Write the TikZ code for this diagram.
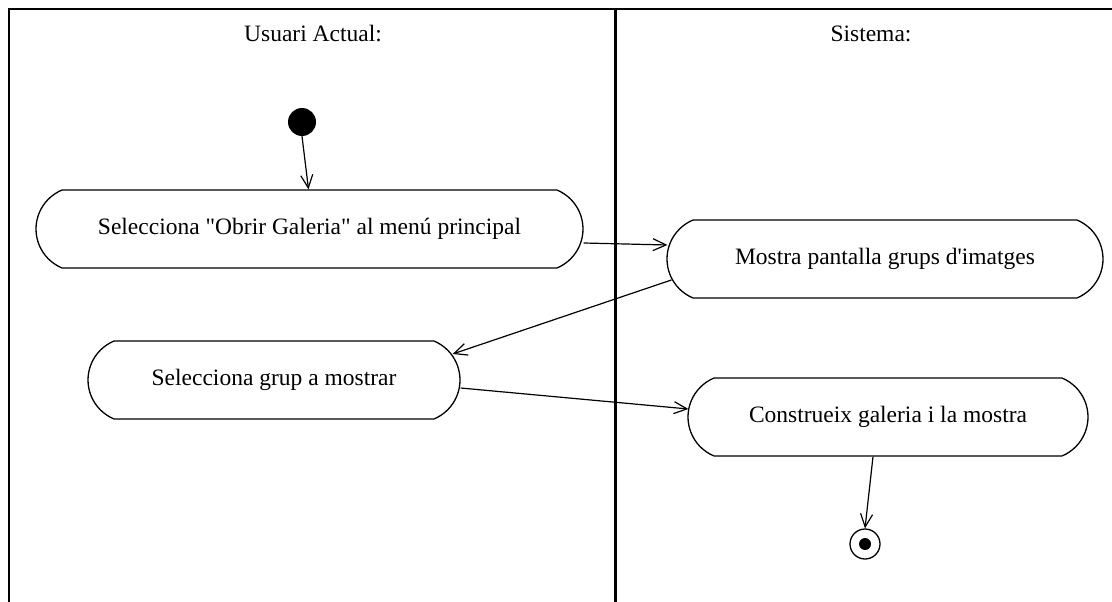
\documentclass[tikz,border=0pt]{standalone}
\usepackage{fontspec}
\setmainfont{Liberation Serif}[Ligatures=TeXOff]
\usetikzlibrary{shapes.misc,arrows.meta,calc}

\tikzset{
  lane/.style={line width=2pt, line cap=rect},
  divider/.style={line width=3pt},
  activity/.style={rounded rectangle, rounded rectangle arc length=135,
    draw, line width=1.3pt, inner sep=0pt, minimum height=78pt,
    font=\fontsize{23.5}{28}\selectfont},
  lanetitle/.style={font=\fontsize{23.5}{28}\selectfont, inner sep=0pt},
  initial/.style={circle, fill=black, minimum size=28pt, inner sep=0pt},
  final/.style={circle, draw, line width=1.3pt, minimum size=30pt, inner sep=0pt,
    path picture={\fill (path picture bounding box.center) circle (6pt);}},
  flow/.style={line width=1.2pt, -{Straight Barb[length=13pt,width=12pt,line width=1.2pt]}}
}

\begin{document}
\begin{tikzpicture}[x=1pt, y=-1pt]
  \useasboundingbox (0,0) rectangle (1112,602);

  % swimlane frame
  \draw[lane] (8.5,602) -- (8.5,9.5) -- (1112,9.5);
  \draw[divider] (615,9.5) -- (615,602);

  % lane titles
  \node[lanetitle] (tuser) at (313,34) {Usuari Actual:};
  \node[lanetitle] (tsys)  at (871,34) {Sistema:};

  % states and activities
  \node[initial] (start) at (302,122) {};
  \node[activity, minimum width=547pt] (a1) at (309.5,229)
    {Selecciona "Obrir Galeria" al menú principal};
  \node[activity, minimum width=436pt] (a2) at (885,259)
    {Mostra pantalla grups d'imatges};
  \node[activity, minimum width=372pt] (a3) at (274,380)
    {Selecciona grup a mostrar};
  \node[activity, minimum width=400pt] (a4) at (888,417)
    {Construeix galeria i la mostra};
  \node[final] (stop) at (865,544) {};

  % control flow
  \draw[flow] (start.south) -- ($(a1.north)+(-1,0)$);
  \draw[flow] ($(a1.east)+(0,14)$) -- ($(a2.west)+(1,-14)$);
  \draw[flow] ($(a2.west)+(5,21)$) -- ($(a3.east)+(-8,-26)$);
  \draw[flow] ($(a3.east)+(0,8)$) -- ($(a4.west)+(1,-8)$);
  \draw[flow] ($(a4.south)+(-15,0)$) -- (stop.north);
\end{tikzpicture}
\end{document}
